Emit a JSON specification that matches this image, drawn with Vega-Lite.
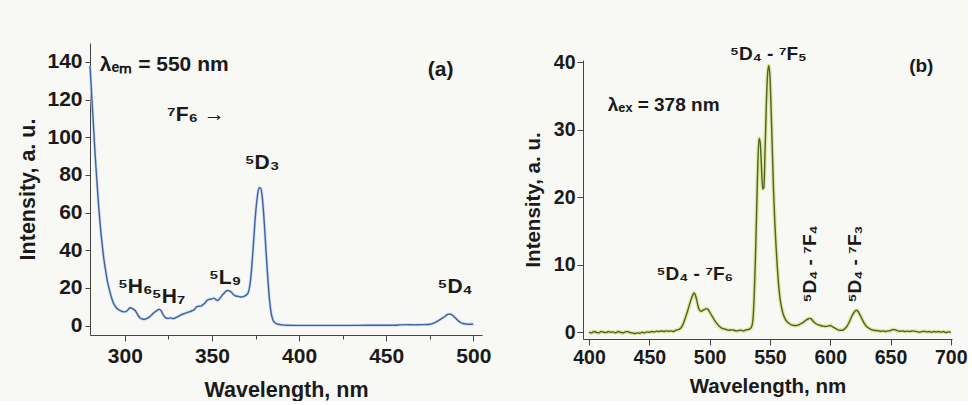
{
  "$schema": "https://vega.github.io/schema/vega-lite/v6.json",
  "background": "#f8f8f4",
  "padding": {"left": 17, "top": 43, "right": 0, "bottom": 0},
  "columns": 2,
  "align": "none",
  "spacing": 32,
  "config": {
    "font": "Liberation Sans",
    "view": {"stroke": null},
    "axis": {
      "grid": false,
      "labelFont": "Liberation Sans",
      "titleFont": "Liberation Sans",
      "labelFontWeight": "bold",
      "titleFontWeight": "bold",
      "labelColor": "#1a1a1a",
      "titleColor": "#1a1a1a",
      "domainColor": "#444444",
      "tickColor": "#444444",
      "labelFlush": false,
      "labelOverlap": false
    }
  },
  "datasets": {
    "exc": [
      {"w":280,"i":138},{"w":281,"i":122},{"w":282,"i":106},{"w":283,"i":90},{"w":284,"i":76},{"w":285,"i":63},{"w":286,"i":52},{"w":287,"i":43},{"w":288,"i":35},{"w":289,"i":29},
      {"w":290,"i":23.5},{"w":291,"i":19.5},{"w":292,"i":16},{"w":293,"i":13},{"w":294,"i":11},{"w":295,"i":9.6},{"w":296,"i":8.7},{"w":297,"i":8.1},{"w":298,"i":7.7},{"w":299,"i":7.4},
      {"w":300,"i":7.3},{"w":301,"i":7.6},{"w":302,"i":8.6},{"w":303,"i":9.5},{"w":304,"i":9.2},{"w":305,"i":8.6},{"w":306,"i":7.9},{"w":307,"i":6.4},{"w":308,"i":4.8},{"w":309,"i":3.9},
      {"w":310,"i":3.5},{"w":311,"i":3.4},{"w":312,"i":3.5},{"w":313,"i":3.9},{"w":314,"i":4.5},{"w":315,"i":5.3},{"w":316,"i":6.2},{"w":317,"i":7.1},{"w":318,"i":7.7},{"w":319,"i":8.4},
      {"w":320,"i":8.6},{"w":321,"i":7.6},{"w":322,"i":5.8},{"w":323,"i":4.5},{"w":324,"i":3.9},{"w":325,"i":3.8},{"w":326,"i":4.1},{"w":327,"i":3.8},{"w":328,"i":3.7},{"w":329,"i":4.1},
      {"w":330,"i":4.6},{"w":331,"i":5.0},{"w":332,"i":5.6},{"w":333,"i":6.0},{"w":334,"i":6.3},{"w":335,"i":6.7},{"w":336,"i":7.0},{"w":337,"i":7.3},{"w":338,"i":7.6},{"w":339,"i":8.1},
      {"w":340,"i":8.6},{"w":341,"i":9.8},{"w":342,"i":10.2},{"w":343,"i":10.3},{"w":344,"i":10.5},{"w":345,"i":11.2},{"w":346,"i":12.0},{"w":347,"i":13.2},{"w":348,"i":13.8},{"w":349,"i":14.0},
      {"w":350,"i":14.2},{"w":351,"i":14.6},{"w":352,"i":14.0},{"w":353,"i":13.3},{"w":354,"i":13.8},{"w":355,"i":15.0},{"w":356,"i":16.2},{"w":357,"i":17.2},{"w":358,"i":18.2},{"w":359,"i":18.6},
      {"w":360,"i":18.4},{"w":361,"i":17.8},{"w":362,"i":16.8},{"w":363,"i":16.0},{"w":364,"i":15.6},{"w":365,"i":15.5},{"w":366,"i":15.3},{"w":367,"i":15.2},{"w":368,"i":15.4},{"w":369,"i":15.8},
      {"w":370,"i":16.5},{"w":371,"i":18},{"w":372,"i":23},{"w":373,"i":33},{"w":374,"i":46},{"w":375,"i":59},{"w":376,"i":68},{"w":377,"i":73},{"w":378,"i":73},{"w":379,"i":67},
      {"w":380,"i":55},{"w":381,"i":40},{"w":382,"i":26},{"w":383,"i":14},{"w":384,"i":6.5},{"w":385,"i":3},{"w":386,"i":1.6},{"w":387,"i":1.0},{"w":388,"i":0.7},{"w":390,"i":0.4},
      {"w":393,"i":0.2},{"w":400,"i":0.1},{"w":410,"i":0.1},{"w":420,"i":0.1},{"w":430,"i":0.1},{"w":440,"i":0.15},{"w":450,"i":0.2},{"w":455,"i":0.2},{"w":458,"i":0.4},{"w":462,"i":0.5},
      {"w":466,"i":0.4},{"w":470,"i":0.5},{"w":474,"i":0.6},{"w":476,"i":0.9},{"w":478,"i":1.6},{"w":480,"i":2.6},{"w":482,"i":3.8},{"w":484,"i":5.1},{"w":485,"i":5.8},{"w":486,"i":6.1},
      {"w":487,"i":6.0},{"w":488,"i":5.5},{"w":489,"i":4.7},{"w":490,"i":3.8},{"w":491,"i":2.9},{"w":492,"i":2.1},{"w":493,"i":1.5},{"w":494,"i":1.1},{"w":496,"i":0.8},{"w":498,"i":0.7},{"w":500,"i":0.8}
    ],
    "emi": [
      {"w":400,"i":0.0},{"w":402,"i":-0.1},{"w":404,"i":0.1},{"w":406,"i":0.0},{"w":408,"i":-0.1},{"w":410,"i":0.1},{"w":412,"i":0.0},{"w":414,"i":-0.05},{"w":416,"i":0.1},{"w":418,"i":0.0},
      {"w":420,"i":0.05},{"w":422,"i":-0.1},{"w":424,"i":0.1},{"w":426,"i":0.0},{"w":428,"i":-0.1},{"w":430,"i":0.05},{"w":432,"i":0.1},{"w":434,"i":-0.05},{"w":436,"i":-0.1},{"w":438,"i":-0.2},
      {"w":440,"i":-0.1},{"w":442,"i":-0.15},{"w":444,"i":0.0},{"w":446,"i":-0.1},{"w":448,"i":0.05},{"w":450,"i":0.0},{"w":452,"i":0.1},{"w":454,"i":0.05},{"w":456,"i":0.15},{"w":458,"i":0.1},
      {"w":460,"i":0.2},{"w":462,"i":0.1},{"w":464,"i":0.2},{"w":466,"i":0.15},{"w":468,"i":0.2},{"w":470,"i":0.1},{"w":472,"i":0.3},{"w":474,"i":0.4},{"w":476,"i":0.6},{"w":478,"i":1.2},
      {"w":480,"i":2.2},{"w":482,"i":3.3},{"w":484,"i":4.5},{"w":486,"i":5.5},{"w":487,"i":5.8},{"w":488,"i":5.6},{"w":489,"i":5.0},{"w":490,"i":4.2},{"w":491,"i":3.5},{"w":492,"i":3.2},
      {"w":493,"i":3.1},{"w":494,"i":3.2},{"w":495,"i":3.3},{"w":496,"i":3.4},{"w":497,"i":3.5},{"w":498,"i":3.45},{"w":499,"i":3.3},{"w":500,"i":3.0},{"w":502,"i":2.4},{"w":504,"i":1.8},
      {"w":506,"i":1.3},{"w":508,"i":0.9},{"w":510,"i":0.6},{"w":512,"i":0.5},{"w":514,"i":0.4},{"w":516,"i":0.3},{"w":518,"i":0.35},{"w":520,"i":0.3},{"w":522,"i":0.2},{"w":524,"i":0.25},
      {"w":526,"i":0.3},{"w":528,"i":0.2},{"w":530,"i":0.35},{"w":532,"i":0.4},{"w":534,"i":0.6},{"w":535,"i":0.9},{"w":536,"i":2.0},{"w":537,"i":5.5},{"w":538,"i":11},{"w":539,"i":18},
      {"w":540,"i":25},{"w":541,"i":28.7},{"w":542,"i":28.0},{"w":543,"i":24.5},{"w":544,"i":21.2},{"w":545,"i":21.5},{"w":546,"i":27},{"w":547,"i":33.5},{"w":548,"i":38},{"w":549,"i":39.5},
      {"w":550,"i":38},{"w":551,"i":33},{"w":552,"i":27},{"w":553,"i":21},{"w":554,"i":16.5},{"w":555,"i":13},{"w":556,"i":10},{"w":557,"i":7.5},{"w":558,"i":5.6},{"w":559,"i":4.3},
      {"w":560,"i":3.4},{"w":561,"i":2.7},{"w":562,"i":2.2},{"w":564,"i":1.6},{"w":566,"i":1.3},{"w":568,"i":1.1},{"w":570,"i":1.0},{"w":572,"i":1.0},{"w":574,"i":1.1},{"w":576,"i":1.3},
      {"w":578,"i":1.5},{"w":580,"i":1.8},{"w":582,"i":2.0},{"w":583,"i":2.05},{"w":584,"i":2.0},{"w":586,"i":1.6},{"w":588,"i":1.3},{"w":590,"i":1.1},{"w":592,"i":1.0},{"w":594,"i":0.9},
      {"w":596,"i":0.85},{"w":598,"i":0.9},{"w":600,"i":1.0},{"w":602,"i":0.8},{"w":604,"i":0.6},{"w":606,"i":0.4},{"w":608,"i":0.3},{"w":610,"i":0.3},{"w":612,"i":0.5},{"w":614,"i":0.9},
      {"w":616,"i":1.6},{"w":618,"i":2.4},{"w":620,"i":3.0},{"w":621,"i":3.2},{"w":622,"i":3.25},{"w":623,"i":3.1},{"w":624,"i":2.8},{"w":626,"i":2.1},{"w":628,"i":1.4},{"w":630,"i":0.9},
      {"w":632,"i":0.6},{"w":634,"i":0.4},{"w":636,"i":0.3},{"w":638,"i":0.25},{"w":640,"i":0.2},{"w":642,"i":0.15},{"w":644,"i":0.2},{"w":646,"i":0.1},{"w":648,"i":0.2},{"w":650,"i":0.25},
      {"w":652,"i":0.4},{"w":654,"i":0.35},{"w":656,"i":0.2},{"w":658,"i":0.15},{"w":660,"i":0.2},{"w":662,"i":0.1},{"w":664,"i":0.15},{"w":666,"i":0.1},{"w":668,"i":0.2},{"w":670,"i":0.15},
      {"w":672,"i":0.1},{"w":674,"i":0.0},{"w":676,"i":0.1},{"w":678,"i":0.15},{"w":680,"i":0.05},{"w":682,"i":0.1},{"w":684,"i":0.0},{"w":686,"i":0.1},{"w":688,"i":0.05},{"w":690,"i":0.1},
      {"w":692,"i":0.0},{"w":694,"i":0.1},{"w":696,"i":-0.05},{"w":698,"i":0.05},{"w":700,"i":0.0}
    ],
    "annALeft": [
      {"w":285.6,"i":135.3,"t":"λₑₘ = 550 nm"},
      {"w":324.2,"i":108.7,"t":"⁷F₆ →"},
      {"w":296,"i":17.5,"t":"⁵H₆"},
      {"w":315.5,"i":12.2,"t":"⁵H₇"},
      {"w":348.3,"i":22.3,"t":"⁵L₉"},
      {"w":479.5,"i":17.5,"t":"⁵D₄"}
    ],
    "annACenter": [
      {"w":481.2,"i":132.6,"t":"(a)"},
      {"w":378.8,"i":83,"t":"⁵D₃"}
    ],
    "annBLeft": [
      {"w":415.5,"i":32.8,"t":"λₑₓ = 378 nm"}
    ],
    "annBCenter": [
      {"w":675.5,"i":38.5,"t":"(b)"},
      {"w":487.8,"i":7.7,"t":"⁵D₄ - ⁷F₆"},
      {"w":548.8,"i":40.3,"t":"⁵D₄ - ⁷F₅"}
    ],
    "annBRot": [
      {"w":583,"i":4.4,"t":"⁵D₄ - ⁷F₄"},
      {"w":620.7,"i":4.4,"t":"⁵D₄ - ⁷F₃"}
    ]
  },
  "concat": [
    {
      "width": 392,
      "height": 292,
      "layer": [
        {
          "data": {"name": "exc"},
          "mark": {"type": "line", "color": "#d3dcee", "strokeWidth": 3, "interpolate": "monotone"},
          "encoding": {
            "x": {"field": "w", "type": "quantitative", "scale": {"domain": [280, 505], "nice": false, "zero": false},
              "axis": {"title": "Wavelength, nm", "values": [300,325,350,375,400,425,450,475,500],
                "labelExpr": "datum.value % 50 === 0 ? datum.label : ''",
                "tickSize": {"condition": {"test": "datum.value % 50 === 0", "value": 6}, "value": 4},
                "labelFontSize": 21, "titleFontSize": 21.5, "labelPadding": 4, "titlePadding": 13}},
            "y": {"field": "i", "type": "quantitative", "scale": {"domain": [-5, 150], "nice": false, "zero": false},
              "axis": {"title": "Intensity, a. u.", "values": [0,10,20,30,40,50,60,70,80,90,100,110,120,130,140],
                "labelExpr": "datum.value % 20 === 0 ? datum.label : ''",
                "tickSize": {"condition": {"test": "datum.value % 20 === 0", "value": 5}, "value": 3},
                "labelFontSize": 21, "titleFontSize": 21.5, "labelPadding": 3, "titlePadding": 7}}
          }
        },
        {
          "data": {"name": "exc"},
          "mark": {"type": "line", "color": "#3f62a0", "strokeWidth": 1.4, "interpolate": "monotone"},
          "encoding": {
            "x": {"field": "w", "type": "quantitative"},
            "y": {"field": "i", "type": "quantitative"}
          }
        },
        {
          "data": {"name": "annALeft"},
          "mark": {"type": "text", "align": "left", "baseline": "alphabetic", "fontSize": 21, "fontWeight": "bold", "color": "#1a1a1a"},
          "encoding": {
            "x": {"field": "w", "type": "quantitative"},
            "y": {"field": "i", "type": "quantitative"},
            "text": {"field": "t"}
          }
        },
        {
          "data": {"name": "annACenter"},
          "mark": {"type": "text", "align": "center", "baseline": "alphabetic", "fontSize": 21, "fontWeight": "bold", "color": "#1a1a1a"},
          "encoding": {
            "x": {"field": "w", "type": "quantitative"},
            "y": {"field": "i", "type": "quantitative"},
            "text": {"field": "t"}
          }
        }
      ]
    },
    {
      "width": 369,
      "height": 296,
      "layer": [
        {
          "data": {"name": "emi"},
          "mark": {"type": "line", "color": "#dfe9a8", "strokeWidth": 4, "interpolate": "monotone"},
          "encoding": {
            "x": {"field": "w", "type": "quantitative", "scale": {"domain": [395, 701], "nice": false, "zero": false},
              "axis": {"title": "Wavelength, nm", "values": [400,425,450,475,500,525,550,575,600,625,650,675,700],
                "labelExpr": "datum.value % 50 === 0 ? datum.label : ''",
                "tickSize": {"condition": {"test": "datum.value % 50 === 0", "value": 6}, "value": 4},
                "labelFontSize": 19.5, "titleFontSize": 20.5, "labelPadding": 3, "titlePadding": 10}},
            "y": {"field": "i", "type": "quantitative", "scale": {"domain": [-1, 40.3], "range": [296, 17], "nice": false, "zero": false},
              "axis": {"title": "Intensity, a. u.", "values": [0,5,10,15,20,25,30,35,40],
                "labelExpr": "datum.value % 10 === 0 ? datum.label : ''",
                "tickSize": {"condition": {"test": "datum.value % 10 === 0", "value": 6}, "value": 3},
                "labelFontSize": 19.5, "titleFontSize": 20.5, "labelPadding": 2, "titlePadding": 10}}
          }
        },
        {
          "data": {"name": "emi"},
          "mark": {"type": "line", "color": "#4d6420", "strokeWidth": 1.4, "interpolate": "monotone"},
          "encoding": {
            "x": {"field": "w", "type": "quantitative"},
            "y": {"field": "i", "type": "quantitative"}
          }
        },
        {
          "data": {"name": "annBLeft"},
          "mark": {"type": "text", "align": "left", "baseline": "alphabetic", "fontSize": 19, "fontWeight": "bold", "color": "#1a1a1a"},
          "encoding": {
            "x": {"field": "w", "type": "quantitative"},
            "y": {"field": "i", "type": "quantitative"},
            "text": {"field": "t"}
          }
        },
        {
          "data": {"name": "annBCenter"},
          "mark": {"type": "text", "align": "center", "baseline": "alphabetic", "fontSize": 19, "fontWeight": "bold", "color": "#1a1a1a"},
          "encoding": {
            "x": {"field": "w", "type": "quantitative"},
            "y": {"field": "i", "type": "quantitative"},
            "text": {"field": "t"}
          }
        },
        {
          "data": {"name": "annBRot"},
          "mark": {"type": "text", "align": "left", "baseline": "middle", "angle": 270, "fontSize": 19, "fontWeight": "bold", "color": "#1a1a1a"},
          "encoding": {
            "x": {"field": "w", "type": "quantitative"},
            "y": {"field": "i", "type": "quantitative"},
            "text": {"field": "t"}
          }
        }
      ]
    }
  ]
}
